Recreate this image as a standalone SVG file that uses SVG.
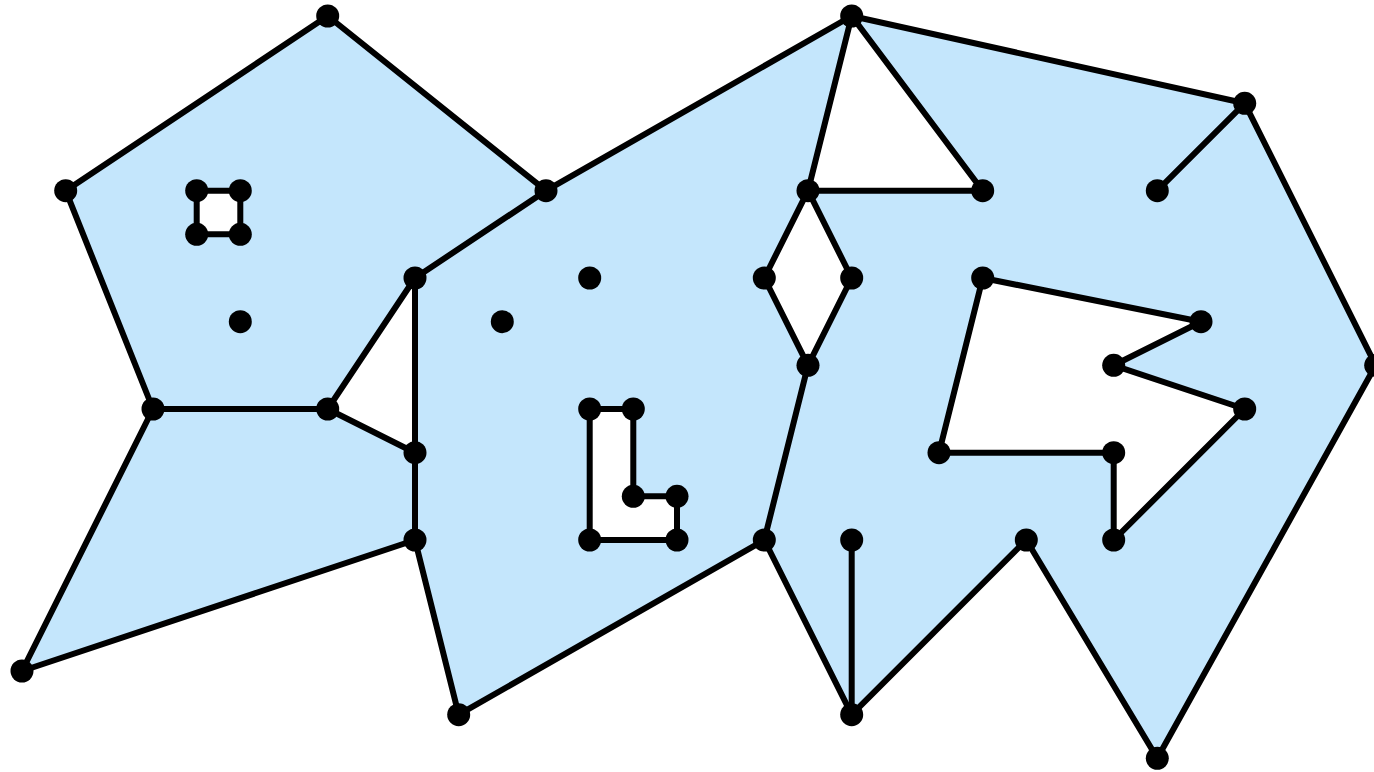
<svg xmlns="http://www.w3.org/2000/svg" width="1374" height="772" viewBox="0 0 1374 772">
<style>
.face{fill:#c4e6fc;fill-rule:evenodd;stroke:none}
.e{stroke:#000;stroke-width:6;fill:none;stroke-linecap:round;stroke-linejoin:round}
.n{fill:#000}
</style>
<rect width="1374" height="772" fill="#fff"/>
<g id="faces">
<path class="face" d="M327.7,16 L65.7,190.7 L153,409 L327.7,409 L415,278 L546,190.7 Z M196.7,190.7 L240.3,190.7 L240.3,234.3 L196.7,234.3 Z"/>
<path class="face" d="M153,409 L327.7,409 L415,452.7 L415,540 L22,671 Z"/>
<path class="face" d="M546,190.7 L851.7,16 L808,190.7 L764.3,278 L808,365.3 L764.3,540 L458.7,714.7 L415,540 L415,452.7 L415,278 Z M589.7,409 L633.3,409 L633.3,496.3 L677,496.3 L677,540 L589.7,540 Z"/>
<path class="face" d="M851.7,16 L1244.7,103.3 L1375.7,365.3 L1157.3,758.3 L1026.3,540 L851.7,714.7 L764.3,540 L808,365.3 L851.7,278 L808,190.7 L982.7,190.7 Z M982.7,278 L1201,321.7 L1113.7,365.3 L1244.7,409 L1113.7,540 L1113.7,452.7 L939,452.7 Z"/>
</g>
<g id="connectors">
<path class="e" d="M327.7,16 L65.7,190.7 L153,409 L22,671 L415,540 L458.7,714.7 L764.3,540 L851.7,714.7 L1026.3,540 L1157.3,758.3 L1375.7,365.3 L1244.7,103.3 L851.7,16 L546,190.7 L327.7,16"/>
<path class="e" d="M153,409 L327.7,409 L415,278 L546,190.7"/>
<path class="e" d="M327.7,409 L415,452.7"/>
<path class="e" d="M415,278 L415,540"/>
<path class="e" d="M851.7,16 L808,190.7 L764.3,278 L808,365.3 L764.3,540"/>
<path class="e" d="M808,190.7 L851.7,278 L808,365.3"/>
<path class="e" d="M851.7,16 L982.7,190.7 L808,190.7"/>
<path class="e" d="M1244.7,103.3 L1157.3,190.7"/>
<path class="e" d="M851.7,714.7 L851.7,540"/>
<path class="e" d="M982.7,278 L1201,321.7 L1113.7,365.3 L1244.7,409 L1113.7,540 L1113.7,452.7 L939,452.7 Z"/>
<path class="e" d="M196.7,190.7 L240.3,190.7 L240.3,234.3 L196.7,234.3 Z"/>
<path class="e" d="M589.7,409 L633.3,409 L633.3,496.3 L677,496.3 L677,540 L589.7,540 Z"/>
</g>
<g id="n1"><circle class="n" cx="327.7" cy="16" r="11.5"/></g>
<g id="n2"><circle class="n" cx="65.7" cy="190.7" r="11.5"/></g>
<g id="n3"><circle class="n" cx="153" cy="409" r="11.5"/></g>
<g id="n4"><circle class="n" cx="22" cy="671" r="11.5"/></g>
<g id="n5"><circle class="n" cx="546" cy="190.7" r="11.5"/></g>
<g id="n6"><circle class="n" cx="415" cy="278" r="11.5"/></g>
<g id="n7"><circle class="n" cx="327.7" cy="409" r="11.5"/></g>
<g id="n8"><circle class="n" cx="415" cy="452.7" r="11.5"/></g>
<g id="n9"><circle class="n" cx="415" cy="540" r="11.5"/></g>
<g id="n10"><circle class="n" cx="196.7" cy="190.7" r="11.5"/></g>
<g id="n11"><circle class="n" cx="240.3" cy="190.7" r="11.5"/></g>
<g id="n12"><circle class="n" cx="196.7" cy="234.3" r="11.5"/></g>
<g id="n13"><circle class="n" cx="240.3" cy="234.3" r="11.5"/></g>
<g id="n14"><circle class="n" cx="240.3" cy="321.7" r="11.5"/></g>
<g id="n15"><circle class="n" cx="851.7" cy="16" r="11.5"/></g>
<g id="n16"><circle class="n" cx="458.7" cy="714.7" r="11.5"/></g>
<g id="n17"><circle class="n" cx="764.3" cy="540" r="11.5"/></g>
<g id="n18"><circle class="n" cx="808" cy="365.3" r="11.5"/></g>
<g id="n19"><circle class="n" cx="808" cy="190.7" r="11.5"/></g>
<g id="n20"><circle class="n" cx="764.3" cy="278" r="11.5"/></g>
<g id="n21"><circle class="n" cx="851.7" cy="278" r="11.5"/></g>
<g id="n22"><circle class="n" cx="589.7" cy="278" r="11.5"/></g>
<g id="n23"><circle class="n" cx="502.3" cy="321.7" r="11.5"/></g>
<g id="n24"><circle class="n" cx="589.7" cy="409" r="11.5"/></g>
<g id="n25"><circle class="n" cx="633.3" cy="409" r="11.5"/></g>
<g id="n26"><circle class="n" cx="633.3" cy="496.3" r="11.5"/></g>
<g id="n27"><circle class="n" cx="677" cy="496.3" r="11.5"/></g>
<g id="n28"><circle class="n" cx="677" cy="540" r="11.5"/></g>
<g id="n29"><circle class="n" cx="589.7" cy="540" r="11.5"/></g>
<g id="n30"><circle class="n" cx="982.7" cy="190.7" r="11.5"/></g>
<g id="n31"><circle class="n" cx="1244.7" cy="103.3" r="11.5"/></g>
<g id="n32"><circle class="n" cx="1157.3" cy="190.7" r="11.5"/></g>
<g id="n33"><circle class="n" cx="1375.7" cy="365.3" r="11.5"/></g>
<g id="n34"><circle class="n" cx="1157.3" cy="758.3" r="11.5"/></g>
<g id="n35"><circle class="n" cx="1026.3" cy="540" r="11.5"/></g>
<g id="n36"><circle class="n" cx="851.7" cy="714.7" r="11.5"/></g>
<g id="n37"><circle class="n" cx="851.7" cy="540" r="11.5"/></g>
<g id="n38"><circle class="n" cx="982.7" cy="278" r="11.5"/></g>
<g id="n39"><circle class="n" cx="1201" cy="321.7" r="11.5"/></g>
<g id="n40"><circle class="n" cx="1113.7" cy="365.3" r="11.5"/></g>
<g id="n41"><circle class="n" cx="1244.7" cy="409" r="11.5"/></g>
<g id="n42"><circle class="n" cx="1113.7" cy="540" r="11.5"/></g>
<g id="n43"><circle class="n" cx="1113.7" cy="452.7" r="11.5"/></g>
<g id="n44"><circle class="n" cx="939" cy="452.7" r="11.5"/></g>
</svg>
